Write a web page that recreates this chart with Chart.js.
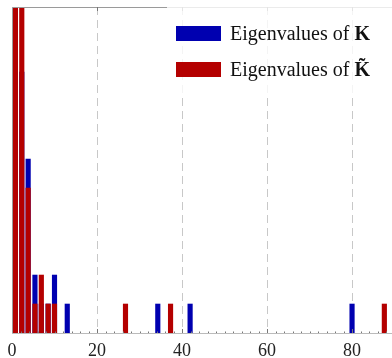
<!DOCTYPE html>
<html>
<head>
<meta charset="utf-8">
<script src="https://cdn.jsdelivr.net/npm/chart.js@4.4.1/dist/chart.umd.min.js"></script>
<style>
  html, body { margin: 0; padding: 0; background: #fff; }
  #wrap { width: 392px; height: 358px; }
</style>
</head>
<body>
<div id="wrap"><canvas id="eig-chart"></canvas></div>
<script>
// histogram bins (bin centre) and counts
const kBins = [0.8, 2.3, 3.8, 5.4, 6.9, 8.5, 10.0, 13.0, 34.3, 41.9, 80.0];
const kCounts = [12, 9, 6, 2, 1, 1, 2, 1, 1, 1, 1];
const ktBins = [0.8, 2.3, 3.8, 5.4, 6.9, 8.5, 10.0, 26.7, 37.3, 87.6];
const ktCounts = [16, 13, 5, 1, 2, 1, 1, 1, 1, 1];
const xTickValues = [0, 20, 40, 60, 80];
const seriesLabels = ['Eigenvalues of K', 'Eigenvalues of K\u0303'];

document.addEventListener('DOMContentLoaded', function(){
    const SERIF = '"Liberation Serif", "DejaVu Serif", serif';

    function toPoints(bins, counts) {
        return bins.map((b, i) => ({ x: b, y: counts[i] }));
    }

    // spines, small inward ticks and the legend box
    const framePlugin = {
        id: 'frame',
        afterDraw(chart) {
            const { ctx, chartArea: a, scales: { x } } = chart;
            ctx.save();
            ctx.lineWidth = 1;

            // top + left spine
            ctx.strokeStyle = '#9a9a9a';
            ctx.beginPath();
            ctx.moveTo(a.left + 0.5, a.bottom);
            ctx.lineTo(a.left + 0.5, a.top + 0.5);
            ctx.lineTo(a.right, a.top + 0.5);
            ctx.stroke();

            // minor ticks every 2, major every 20
            ctx.strokeStyle = '#777';
            for (let v = 2; v < x.max; v += 2) {
                const px = Math.round(x.getPixelForValue(v)) + 0.5;
                const len = v % 20 === 0 ? 4 : 1.5;
                ctx.beginPath();
                ctx.moveTo(px, a.bottom);
                ctx.lineTo(px, a.bottom - len);
                ctx.stroke();
                if (v % 20 === 0) {
                    ctx.beginPath();
                    ctx.moveTo(px, a.top);
                    ctx.lineTo(px, a.top + 4);
                    ctx.stroke();
                }
            }

            // legend
            const bx = 167, by = a.top - 2, bw = chart.width - bx + 5, bh = 97 - by;
            ctx.fillStyle = 'rgba(255,255,255,0.8)';
            ctx.fillRect(bx, by, bw, bh);

            chart.data.datasets.forEach((ds, i) => {
                const y = 26 + i * 36;
                ctx.fillStyle = ds.backgroundColor;
                ctx.fillRect(176, y, 45, 15);
                const label = ds.label;
                const cut = label.lastIndexOf(' ') + 1;
                const plain = label.slice(0, cut);
                const sym = label.slice(cut);
                ctx.fillStyle = '#111';
                ctx.textBaseline = 'alphabetic';
                ctx.font = '20px ' + SERIF;
                ctx.fillText(plain, 230, y + 14);
                const w = ctx.measureText(plain).width;
                ctx.font = 'bold 20px ' + SERIF;
                ctx.fillText(sym, 230 + w, y + 14);
            });
            ctx.restore();
        }
    };

    const ctx = document.getElementById('eig-chart').getContext('2d');

    new Chart(ctx, {
        type: 'bar',
        data: {
            datasets: [{
                label: seriesLabels[0],
                data: toPoints(kBins, kCounts),
                backgroundColor: '#0000b0',
                barThickness: 4.5,
                grouped: false,
                order: 1
            }, {
                label: seriesLabels[1],
                data: toPoints(ktBins, ktCounts),
                backgroundColor: '#b40000',
                barThickness: 4.5,
                grouped: false,
                order: 0
            }]
        },
        options: {
            responsive: true,
            maintainAspectRatio: false,
            animation: false,
            layout: { padding: { left: 12, top: 7, right: 0, bottom: 0 } },
            plugins: {
                legend: { display: false },
                tooltip: { enabled: false }
            },
            scales: {
                x: {
                    type: 'linear',
                    min: 0,
                    max: 89.4,
                    offset: false,
                    afterBuildTicks: (axis) => {
                        axis.ticks = xTickValues.map(v => ({ value: v }));
                    },
                    afterFit: (axis) => { axis.height = 25; },
                    ticks: {
                        color: '#222',
                        padding: 7,
                        maxRotation: 0,
                        autoSkip: false,
                        font: { family: SERIF, size: 18 }
                    },
                    grid: {
                        offset: false,
                        drawTicks: false,
                        color: (c) => (c.tick && c.tick.value > 0) ? '#c8c8c8' : 'transparent'
                    },
                    border: { color: '#bbbbbb', dash: [8, 5] }
                },
                y: {
                    display: false,
                    min: 0,
                    max: 11.25
                }
            }
        },
        plugins: [framePlugin]
    });
});
</script>
</body>
</html>
